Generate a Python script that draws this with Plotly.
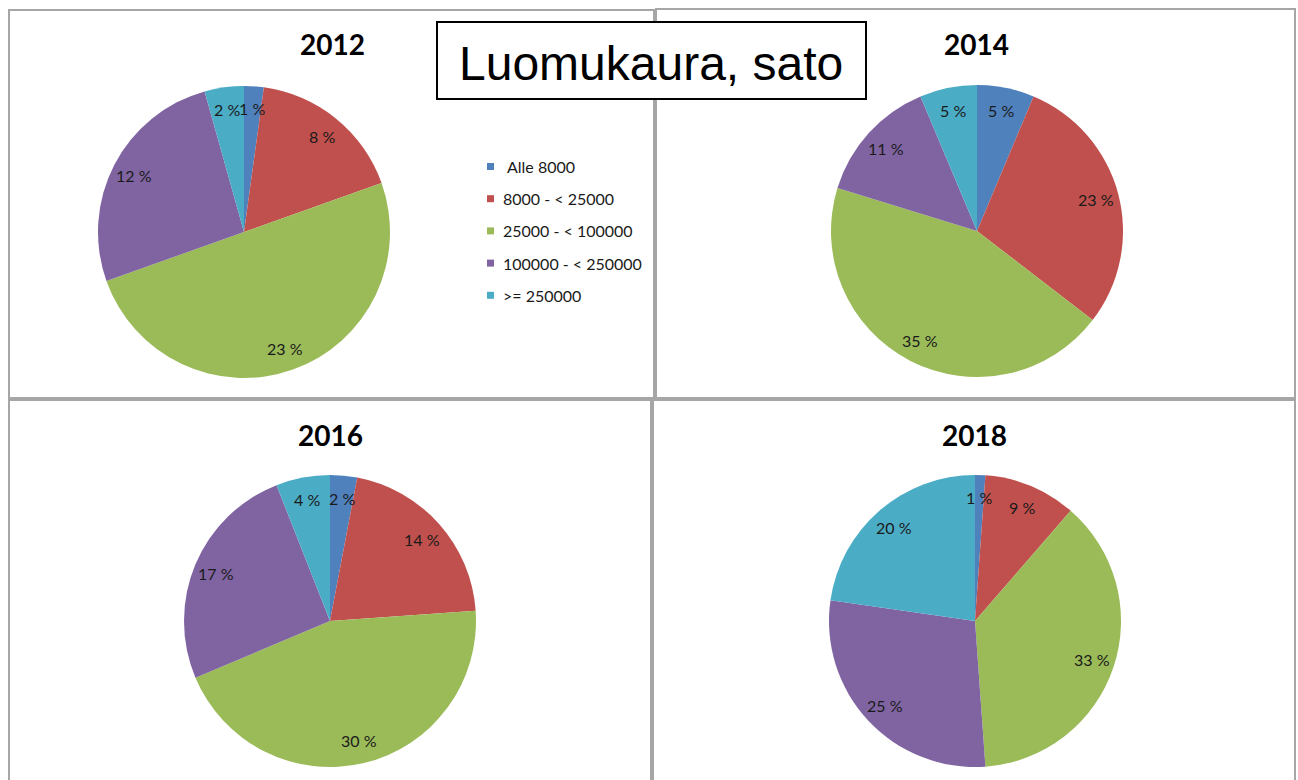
import math
import plotly.graph_objects as go

# ---------------- data ----------------
categories = ["Alle 8000", "8000 - < 25000", "25000 - < 100000", "100000 - < 250000", ">= 250000"]
years = ["2012", "2014", "2016", "2018"]
values_2012 = [1, 8, 23, 12, 2]
values_2014 = [5, 23, 35, 11, 5]
values_2016 = [2, 14, 30, 17, 4]
values_2018 = [1, 9, 33, 25, 20]
main_title = "Luomukaura, sato"

# ---------------- style ----------------
W, H = 1298, 780
colors = ["#4F81BD", "#C0504D", "#9BBB59", "#8064A2", "#4BACC6"]
# pie centres / radius in pixels
pie_geo = {
    "2012": (244, 232),
    "2014": (977, 231),
    "2016": (330, 621),
    "2018": (975, 621),
}
R = 146
title_pos = {"2012": (332, 44), "2014": (977, 44), "2016": (330, 435), "2018": (974, 435)}
panels = [(9, 10, 654, 398), (656, 9, 1295, 398), (9, 400, 651, 784), (653, 400, 1295, 784)]
label_frac = 0.845

def px(x):
    return x / W

def py(y):
    return 1 - y / H

series = {"2012": values_2012, "2014": values_2014, "2016": values_2016, "2018": values_2018}

fig = go.Figure()
annotations = []
shapes = []

# panel borders
for (x0, y0, x1, y1) in panels:
    shapes.append(dict(type="rect", xref="paper", yref="paper",
                       x0=px(x0), x1=px(x1), y0=py(y1), y1=py(y0),
                       line=dict(color="#A6A6A6", width=2), layer="below"))

for yr in years:
    vals = series[yr]
    cx, cy = pie_geo[yr]
    fig.add_trace(go.Pie(
        labels=categories, values=vals, sort=False, direction="clockwise", rotation=0,
        marker=dict(colors=colors, line=dict(width=0)),
        textinfo="none", showlegend=False, name=yr,
        domain=dict(x=[px(cx - R), px(cx + R)], y=[py(cy + R), py(cy - R)]),
        hovertemplate="%{label}: %{value} %<extra>" + yr + "</extra>",
    ))
    # data labels positioned along each slice's bisector
    total = sum(vals)
    cum = 0
    for v in vals:
        mid = (cum + v / 2) / total * 2 * math.pi
        cum += v
        lx = cx + label_frac * R * math.sin(mid)
        ly = cy - label_frac * R * math.cos(mid)
        annotations.append(dict(x=px(lx), y=py(ly), xref="paper", yref="paper",
                                text=f"{v} %", showarrow=False,
                                font=dict(family="Lato", size=16, color="#1a1a1a"),
                                xanchor="center", yanchor="middle"))
    tx, ty = title_pos[yr]
    annotations.append(dict(x=px(tx), y=py(ty), xref="paper", yref="paper",
                            text=f"<b>{yr}</b>", showarrow=False,
                            font=dict(family="Lato", size=28, color="#000000"),
                            xanchor="center", yanchor="middle"))

# legend (manual, placed in the 2012 panel)
leg_x, leg_y0, leg_dy = 487, 166.5, 32.2
for i, (cat, col) in enumerate(zip(categories, colors)):
    yy = leg_y0 + i * leg_dy
    shapes.append(dict(type="rect", xref="paper", yref="paper",
                       x0=px(leg_x), x1=px(leg_x + 7), y0=py(yy + 3.5), y1=py(yy - 3.5),
                       fillcolor=col, line=dict(width=0)))
    annotations.append(dict(x=px(leg_x + 14 if i > 0 else leg_x + 18), y=py(yy),
                            xref="paper", yref="paper", text=cat, showarrow=False,
                            font=dict(family="Lato", size=16, color="#1a1a1a"),
                            xanchor="left", yanchor="middle"))

# main title box
shapes.append(dict(type="rect", xref="paper", yref="paper",
                   x0=px(437), x1=px(866), y0=py(99), y1=py(22),
                   fillcolor="white", line=dict(color="black", width=2), layer="above"))
annotations.append(dict(x=px(651), y=py(63), xref="paper", yref="paper",
                        text=main_title, showarrow=False,
                        font=dict(family="Liberation Sans", size=48, color="black"),
                        xanchor="center", yanchor="middle"))

fig.update_layout(
    width=W, height=H, margin=dict(l=0, r=0, t=0, b=0),
    paper_bgcolor="white", plot_bgcolor="white",
    showlegend=False, shapes=shapes, annotations=annotations,
)

fig.write_html("out.html", config={"displayModeBar": False},
               post_script="document.body.style.margin='0px';document.body.style.overflow='hidden';")
